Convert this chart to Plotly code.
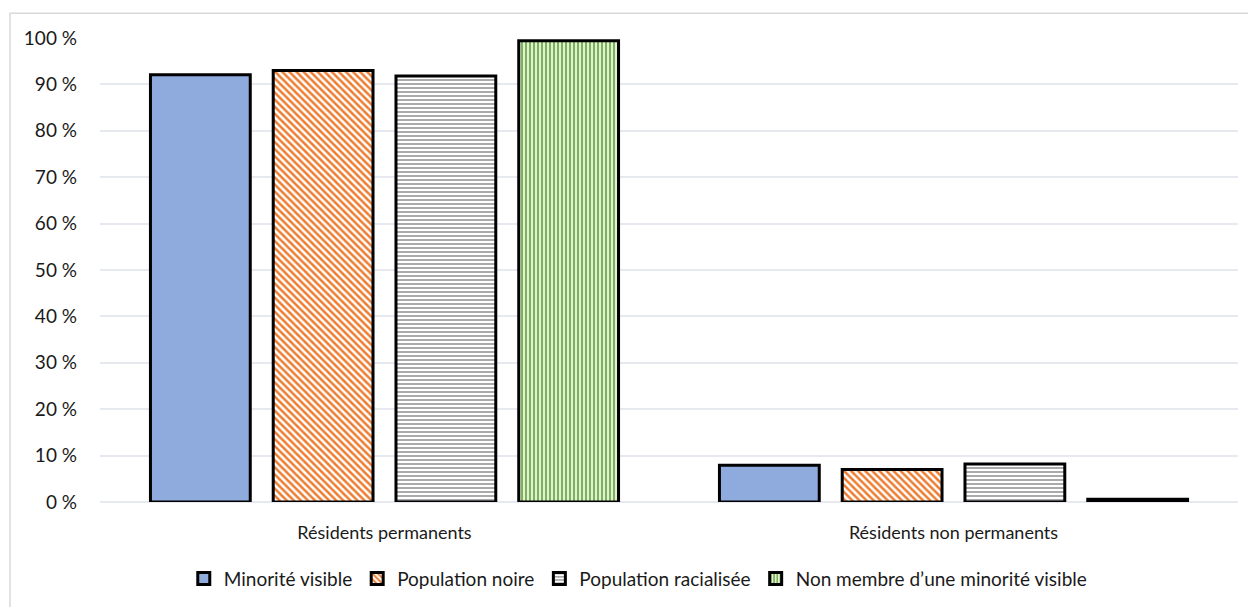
import plotly.graph_objects as go

# Residency status shares by group (percent)
categories = ["Résidents permanents", "Résidents non permanents"]
series_names = [
    "Minorité visible",
    "Population noire",
    "Population racialisée",
    "Non membre d\u2019une minorité visible",
]
minorite_visible = [92.1, 7.9]
population_noire = [93.0, 7.0]
population_racialisee = [91.8, 8.2]
non_membre = [99.4, 0.6]
y_ticks = [0, 10, 20, 30, 40, 50, 60, 70, 80, 90, 100]
y_tick_labels = [f"{v} %" for v in y_ticks]

FONT = "Lato, 'Open Sans', sans-serif"

styles = [
    dict(color="#8FAADC", pattern=dict(shape="")),
    dict(color="white", pattern=dict(shape="\\", fgcolor="#ED7D31", bgcolor="white",
                                      size=5, solidity=0.5, fgopacity=1, fillmode="overlay")),
    dict(color="white", pattern=dict(shape="-", fgcolor="#A0A0A0", bgcolor="white",
                                      size=4, solidity=0.45, fgopacity=1, fillmode="overlay")),
    dict(color="#E2F0D9", pattern=dict(shape="|", fgcolor="#70AD47", bgcolor="#E2F0D9",
                                        size=4, solidity=0.45, fgopacity=1, fillmode="overlay")),
]

fig = go.Figure()
for name, vals, st in zip(series_names,
                          [minorite_visible, population_noire, population_racialisee, non_membre],
                          styles):
    fig.add_trace(go.Bar(
        name=name,
        x=categories,
        y=vals,
        marker=dict(color=st["color"], pattern=st["pattern"],
                    line=dict(color="black", width=3)),
        hovertemplate="%{x}<br>%{y:.1f} %<extra>" + name + "</extra>",
    ))

# outer chart frame
fig.add_shape(type="rect", xref="paper", yref="paper",
              x0=-0.0791, x1=1.03, y0=-0.35, y1=1.0535,
              line=dict(color="#D9D9D9", width=1.5), fillcolor="rgba(0,0,0,0)", layer="below")

fig.update_layout(
    width=1248, height=607,
    margin=dict(l=100, r=10, t=38, b=102),
    paper_bgcolor="white", plot_bgcolor="white",
    barmode="group", bargap=0.137, bargroupgap=0.187,
    font=dict(family=FONT, size=18, color="#1a1a1a"),
    showlegend=True,
    legend=dict(orientation="h", x=0.473, xanchor="center", y=-0.165, yanchor="middle",
                font=dict(size=19), itemwidth=30, traceorder="normal"),
    xaxis=dict(showgrid=False, showline=False, zeroline=False, ticks="",
               ticklabelstandoff=18, tickfont=dict(size=18)),
    yaxis=dict(range=[0, 100], tickvals=y_ticks, ticktext=y_tick_labels,
               showgrid=True, gridcolor="#E6E9EF", gridwidth=1.5,
               zeroline=True, zerolinecolor="#E6E9EF", zerolinewidth=1.5,
               showline=False, ticklabelstandoff=22, tickfont=dict(size=19)),
)

fig.write_html("out.html")
